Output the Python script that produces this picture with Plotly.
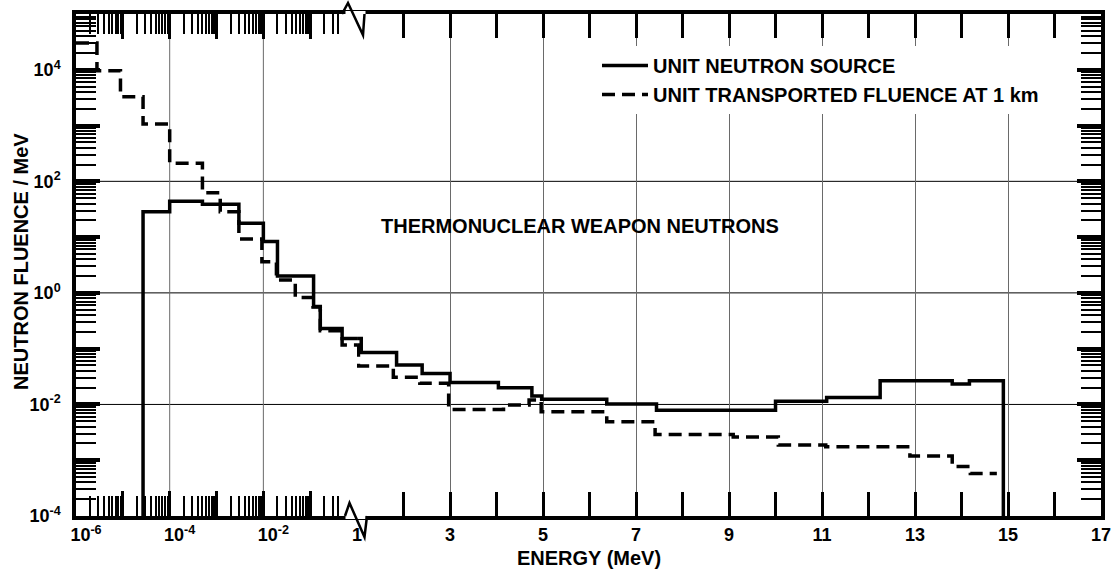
import plotly.graph_objects as go

# ---------------------------------------------------------------- data
# Unit neutron source spectrum: histogram bin edges (MeV) and fluence per MeV
source_edges = [2.7e-5, 1e-4, 5e-4, 3e-3, 1e-2, 0.02, 0.118, 0.164, 0.48,
                1.09, 1.85, 2.4, 3.0, 4.04, 4.76, 4.97, 6.37, 7.44, 10.0,
                11.1, 12.25, 13.8, 14.17, 14.9]
source_values = [28.5, 44, 38.7, 17.7, 8.3, 2.0, 0.57, 0.23, 0.152,
                 0.085, 0.051, 0.036, 0.0247, 0.020, 0.0142, 0.0124, 0.0102,
                 0.00785, 0.0114, 0.0133, 0.0267, 0.0232, 0.0267]

# Unit transported fluence at 1 km: bin edges (MeV) and fluence per MeV
transported_edges = [1e-6, 2.8e-6, 8.9e-6, 2.7e-5, 1e-4, 5e-4, 1.2e-3, 3e-3,
                     9.3e-3, 0.019, 0.048, 0.115, 0.164, 0.48, 1.03, 1.78,
                     2.35, 2.97, 4.15, 4.70, 4.96, 6.37, 7.41, 9.09, 10.06,
                     11.08, 12.89, 13.8, 14.19, 14.76]
transported_values = [30200, 9620, 3290, 1066, 210, 62.5, 28.5, 9.25, 3.62,
                      1.70, 0.83, 0.56, 0.21, 0.116, 0.049, 0.0307, 0.0239,
                      0.0081, 0.0098, 0.012, 0.0074, 0.0049, 0.0029, 0.0026,
                      0.00188, 0.00175, 0.00119, 0.00077, 0.00058]

# tick labels
y_label_exponents = [-4, -2, 0, 2, 4]
x_log_label_exponents = [-6, -4, -2]
x_lin_labels = [1, 3, 5, 7, 9, 11, 13, 15, 17]

# ---------------------------------------------------------------- layout constants
W, H = 1117, 571
ML, MR, MT, MB = 76, 16, 14, 55
PW, PH = W - ML - MR, H - MT - MB
LOG_RANGE = [-6, 0]          # log10(MeV), left section
LIN_RANGE = [1, 17]          # MeV, right section
Y_RANGE = [-4, 5]            # log10(fluence)
SPLIT = 0.2742               # paper fraction where the log section meets the linear one
BREAK_E = 1.0
FONT = "Liberation Sans, Arial, Helvetica, sans-serif"
GRID = "#6a6a6a"


def px(xp):
    return (xp - ML) / PW


def py(yp):
    return (H - MB - yp) / PH


def step_path(edges, values, floor=None):
    xs, ys = [], []
    if floor is not None:
        xs.append(edges[0]); ys.append(floor)
    for i, v in enumerate(values):
        xs += [edges[i], edges[i + 1]]
        ys += [v, v]
    if floor is not None:
        xs.append(edges[-1]); ys.append(floor)
    return xs, ys


def split_at(xs, ys, b):
    lx, ly, rx, ry = [], [], [], []
    for i, (x, y) in enumerate(zip(xs, ys)):
        if x <= b:
            lx.append(x); ly.append(y)
        if x >= b:
            rx.append(x); ry.append(y)
        if i + 1 < len(xs) and x < b < xs[i + 1]:
            lx.append(b); ly.append(y)
            rx.append(b); ry.append(y)
    return (lx, ly), (rx, ry)


def log_minor(lo, hi, stop=None):
    vals = []
    for d in range(lo, hi):
        for k in range(2, 10):
            v = k * 10.0 ** d
            if stop is None or v <= stop:
                vals.append(v)
    return vals


def sup(e):
    return "10<sup>%d</sup>" % e


fig = go.Figure()

series = [
    ("UNIT TRANSPORTED FLUENCE AT 1 km", transported_edges, transported_values,
     None, "13px,7px"),
    ("UNIT NEUTRON SOURCE", source_edges, source_values,
     10 ** Y_RANGE[0], "solid"),
]
for name, edges, values, floor, dash in series:
    xs, ys = step_path(edges, values, floor)
    (lx, ly), (rx, ry) = split_at(xs, ys, BREAK_E)
    style = dict(color="black", width=3.5, dash=dash)
    # logarithmic energy section (below 1 MeV)
    fig.add_trace(go.Scatter(x=lx, y=ly, mode="lines", line=style, name=name,
                             legendgroup=name, showlegend=True,
                             xaxis="x", yaxis="y", hoverinfo="skip"))
    # linear energy section (1 MeV and above)
    fig.add_trace(go.Scatter(x=rx, y=ry, mode="lines", line=style, name=name,
                             legendgroup=name, showlegend=False,
                             xaxis="x2", yaxis="y2", hoverinfo="skip"))

axis_common = dict(showline=True, linewidth=3.5, linecolor="black",
                   zeroline=False, tickcolor="black",
                   tickfont=dict(family=FONT, size=18, color="black", weight="bold"))

decades_x = [10.0 ** e for e in range(LOG_RANGE[0], LOG_RANGE[1])]
decades_y = [10.0 ** e for e in range(Y_RANGE[0], Y_RANGE[1] + 1)]
y_minor = dict(ticks="inside", ticklen=20, tickwidth=1.5, tickcolor="black",
               tickmode="array", tickvals=log_minor(Y_RANGE[0], Y_RANGE[1]),
               showgrid=False)

fig.update_layout(
    width=W, height=H,
    margin=dict(l=ML, r=MR, t=MT, b=MB, autoexpand=False),
    paper_bgcolor="white", plot_bgcolor="white",
    font=dict(family=FONT, size=18, color="black", weight="bold"),
    xaxis=dict(
        type="log", domain=[0, SPLIT], range=LOG_RANGE, anchor="y",
        mirror="ticks", ticks="inside", ticklen=25, tickwidth=3,
        tickmode="array", tickvals=decades_x,
        ticktext=[sup(e) if e in x_log_label_exponents else ""
                  for e in range(LOG_RANGE[0], LOG_RANGE[1])],
        ticklabelshift=10, ticklabelstandoff=0,
        showgrid=False,
        minor=dict(ticks="inside", ticklen=20, tickwidth=1.5, tickcolor="black",
                   tickmode="array", tickvals=log_minor(-6, 0, 0.45),
                   showgrid=False),
        **axis_common),
    xaxis2=dict(
        type="linear", domain=[SPLIT, 1], range=LIN_RANGE, anchor="y2",
        mirror="ticks", ticks="",
        tickmode="array", tickvals=x_lin_labels,
        ticktext=[str(v) for v in x_lin_labels],
        ticklabelstandoff=0,
        showgrid=True, gridcolor=GRID, gridwidth=1,
        minor=dict(ticks="inside", ticklen=24, tickwidth=3, tickcolor="black",
                   tickmode="array", tickvals=list(range(2, 17)),
                   showgrid=False),
        **axis_common),
    yaxis=dict(
        type="log", range=Y_RANGE, domain=[0, 1], anchor="x",
        ticks="inside", ticklen=24, tickwidth=3.5,
        tickmode="array", tickvals=decades_y,
        ticktext=[sup(e) if e in y_label_exponents else ""
                  for e in range(Y_RANGE[0], Y_RANGE[1] + 1)],
        ticklabelstandoff=8, showgrid=False,
        minor=y_minor,
        **axis_common),
    yaxis2=dict(
        type="log", range=Y_RANGE, domain=[0, 1], anchor="x2", side="right",
        ticks="inside", ticklen=24, tickwidth=3.5,
        tickmode="array", tickvals=decades_y, showticklabels=False,
        showgrid=False,
        minor=y_minor,
        **axis_common),
    legend=dict(x=px(597), y=py(46), xanchor="left", yanchor="top",
                bgcolor="white", borderwidth=0, itemwidth=46,
                font=dict(family=FONT, size=20, color="black", weight="bold"),
                traceorder="reversed", tracegroupgap=0),
    showlegend=True,
)

shapes = []
# horizontal grid across both sections
for v in [1e-2, 1, 1e2]:
    shapes.append(dict(type="line", xref="paper", x0=0, x1=1, yref="y", y0=v, y1=v,
                       line=dict(color="black", width=1), layer="below"))
# vertical grid in the logarithmic section
for v in [1e-4, 1e-2]:
    shapes.append(dict(type="line", xref="x", x0=v, x1=v, yref="paper", y0=0, y1=1,
                       line=dict(color=GRID, width=1), layer="below"))

# axis-break marks on the bottom and top frame lines
for y_axis, pts in [(516, [(345, 516), (349.5, 503), (364.5, 537), (367, 516)]),
                    (14, [(342, 14), (348, 3), (363, 35), (364.5, 14)])]:
    shapes.append(dict(type="rect", xref="paper", yref="paper",
                       x0=px(345.5), x1=px(365.5), y0=py(y_axis + 3), y1=py(y_axis - 3),
                       fillcolor="white", line=dict(width=0), layer="above"))
    path = "M" + " L".join("%.5f,%.5f" % (px(a), py(b)) for a, b in pts)
    shapes.append(dict(type="path", xref="paper", yref="paper", path=path,
                       line=dict(color="black", width=2.5), layer="above"))

fig.update_layout(shapes=shapes)

fig.add_annotation(text="THERMONUCLEAR WEAPON NEUTRONS", xref="paper", yref="paper",
                   x=px(580), y=py(226), showarrow=False, xanchor="center", yanchor="middle",
                   font=dict(family=FONT, size=20, color="black", weight="bold"))
fig.add_annotation(text="ENERGY (MeV)", xref="paper", yref="paper",
                   x=px(589), y=py(558), showarrow=False, xanchor="center", yanchor="middle",
                   font=dict(family=FONT, size=20, color="black", weight="bold"))
fig.add_annotation(text="NEUTRON FLUENCE / MeV", xref="paper", yref="paper",
                   x=px(21), y=py(262), showarrow=False, textangle=-90,
                   xanchor="center", yanchor="middle",
                   font=dict(family=FONT, size=20, color="black", weight="bold"))

fig.write_html("out.html")
